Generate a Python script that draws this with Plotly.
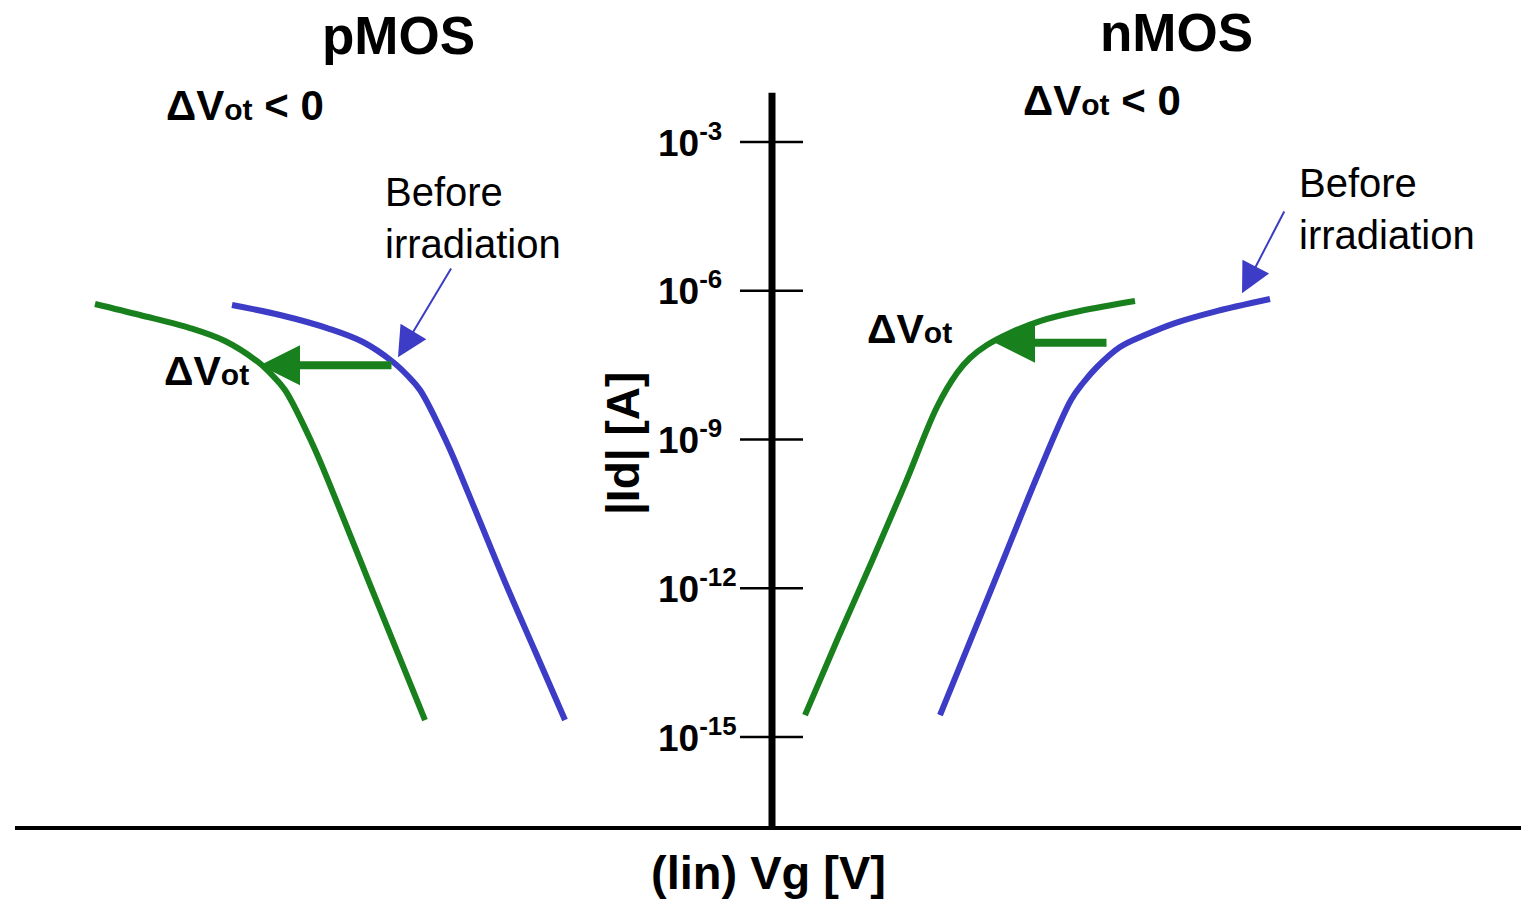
import numpy as np
import plotly.graph_objects as go

W, H = 1521, 899

# Gate voltage (linear, arbitrary units, 0 at the current axis) and |Id| [A]
vg_pmos_before = [-5.40, -4.92, -4.42, -4.09, -3.79, -3.65, -3.52, -3.25, -3.05, -2.67, -2.37, -2.07]
id_pmos_before = [5.15e-7, 3.24e-7, 1.69e-7, 9.25e-8, 3.66e-8, 2.00e-8, 9.95e-9,
                  8.49e-10, 9.57e-11, 1.33e-12, 5.42e-14, 2.20e-15]

vg_pmos_after = [-6.77, -6.32, -5.82, -5.47, -5.14, -5.00, -4.87, -4.60, -4.40, -4.03, -3.75, -3.47]
id_pmos_after = [5.41e-7, 3.24e-7, 1.77e-7, 9.68e-8, 3.66e-8, 2.00e-8, 9.95e-9,
                 8.49e-10, 9.57e-11, 1.33e-12, 5.42e-14, 2.20e-15]

vg_nmos_after = [0.33, 0.66, 1.00, 1.33, 1.65, 1.85, 1.98, 2.15, 2.38, 2.68, 3.08, 3.63]
id_nmos_after = [2.77e-15, 9.91e-14, 3.54e-12, 1.26e-10, 4.52e-9, 2.19e-8,
                 4.40e-8, 8.05e-8, 1.41e-7, 2.45e-7, 3.90e-7, 6.21e-7]

vg_nmos_before = [1.68, 2.01, 2.34, 2.67, 2.99, 3.11, 3.25, 3.48, 3.73, 4.03, 4.41, 4.98]
id_nmos_before = [2.77e-15, 1.19e-13, 5.13e-12, 2.21e-10, 6.25e-9, 1.38e-8, 2.90e-8,
                  7.33e-8, 1.28e-7, 2.23e-7, 3.72e-7, 6.81e-7]

# Decade ticks on the current axis
tick_ids = [1e-3, 1e-6, 1e-9, 1e-12, 1e-15]
tick_text = ["10<sup>-3</sup>", "10<sup>-6</sup>", "10<sup>-9</sup>", "10<sup>-12</sup>", "10<sup>-15</sup>"]

# Threshold shift arrows: (Vg tail, Vg tip, Id)
shift_pmos = (-3.79, -5.12, 3.16e-8)
shift_nmos = (3.36, 2.23, 8.91e-8)

# "Before irradiation" pointers: (Vg tail, Id tail, Vg tip, Id tip)
ptr_pmos = (-3.20, 3.02e-6, -3.74, 4.57e-8)
ptr_nmos = (5.13, 4.27e-5, 4.70, 8.91e-7)

GREEN = "#18801c"
BLUE = "#3c3cc6"
FONT = "Liberation Sans, Arial, sans-serif"

X_RANGE = [-7.72, 7.49]
Y_RANGE = [-18.267, -0.136]
Y_AXIS_TOP = 9.8e-3
Y_AXIS_BOTTOM = 1.46e-17


def px(x):
    return x / W


def py(y):
    return 1 - y / H


fig = go.Figure()

curve = dict(mode="lines", hoverinfo="skip", showlegend=False)
for xs, ys, col in ((vg_pmos_after, id_pmos_after, GREEN),
                    (vg_pmos_before, id_pmos_before, BLUE),
                    (vg_nmos_after, id_nmos_after, GREEN),
                    (vg_nmos_before, id_nmos_before, BLUE)):
    fig.add_trace(go.Scatter(x=xs, y=ys, line=dict(color=col, width=6, shape="spline", smoothing=1.0),
                             **curve))

# Axis lines
fig.add_trace(go.Scatter(x=[0, 0], y=[Y_AXIS_TOP, Y_AXIS_BOTTOM], mode="lines",
                         line=dict(color="black", width=7), hoverinfo="skip", showlegend=False))
fig.add_trace(go.Scatter(x=[-7.57, 7.6], y=[Y_AXIS_BOTTOM, Y_AXIS_BOTTOM], mode="lines",
                         line=dict(color="black", width=4), hoverinfo="skip", showlegend=False))

# Tick marks crossing the current axis
tx, ty = [], []
for v in tick_ids:
    tx += [-0.32, 0.31, None]
    ty += [v, v, None]
fig.add_trace(go.Scatter(x=tx, y=ty, mode="lines", line=dict(color="black", width=2.5),
                         hoverinfo="skip", showlegend=False))

ann = []
for v, t in zip(tick_ids, tick_text):
    ann.append(dict(x=-1.16, y=np.log10(v), xref="x", yref="y", text=f"<b>{t}</b>",
                    xanchor="left", yanchor="middle", showarrow=False, yshift=2,
                    font=dict(family=FONT, size=37, color="black")))

for (tail, tip, idv) in (shift_pmos, shift_nmos):
    ly = np.log10(idv)
    ann.append(dict(x=tip, y=ly, ax=tail, ay=ly, xref="x", yref="y", axref="x", ayref="y",
                    text="", showarrow=True, arrowhead=2, arrowsize=1, arrowwidth=8,
                    arrowcolor=GREEN, standoff=0))

for (vt, it, vh, ih) in (ptr_pmos, ptr_nmos):
    ann.append(dict(x=vh, y=np.log10(ih), ax=vt, ay=np.log10(it), xref="x", yref="y",
                    axref="x", ayref="y", text="", showarrow=True, arrowhead=2,
                    arrowsize=3, arrowwidth=2, arrowcolor=BLUE, standoff=0))


def label(text, x, y, size, xanchor="left", angle=0):
    ann.append(dict(x=px(x), y=py(y), xref="paper", yref="paper", text=text, showarrow=False,
                    xanchor=xanchor, yanchor="middle", textangle=angle, align="left",
                    font=dict(family=FONT, size=size, color="black")))


sub = "<span style='font-size:30px'>ot</span>"
label("<b>pMOS</b>", 398, 35, 53, "center")
label("<b>nMOS</b>", 1176, 33, 53, "center")
label(f"<b>ΔV{sub} &lt; 0</b>", 164, 106, 42)
label(f"<b>ΔV{sub} &lt; 0</b>", 1021, 100, 42)
label(f"<b>ΔV{sub}</b>", 162, 371, 41)
label(f"<b>ΔV{sub}</b>", 865, 329, 41)
label("Before<br>irradiation", 383, 218, 40)
label("Before<br>irradiation", 1297, 209, 40)
label("<b>|Id| [A]</b>", 623, 444, 46, "center", -90)
label("<b>(lin) Vg [V]</b>", 769, 872, 47, "center")

fig.update_layout(
    width=W, height=H,
    margin=dict(l=0, r=0, t=0, b=0),
    paper_bgcolor="white", plot_bgcolor="white",
    xaxis=dict(range=X_RANGE, visible=False, fixedrange=True),
    yaxis=dict(type="log", range=Y_RANGE, visible=False, fixedrange=True),
    annotations=ann,
    showlegend=False,
)

fig.write_html("out.html")
